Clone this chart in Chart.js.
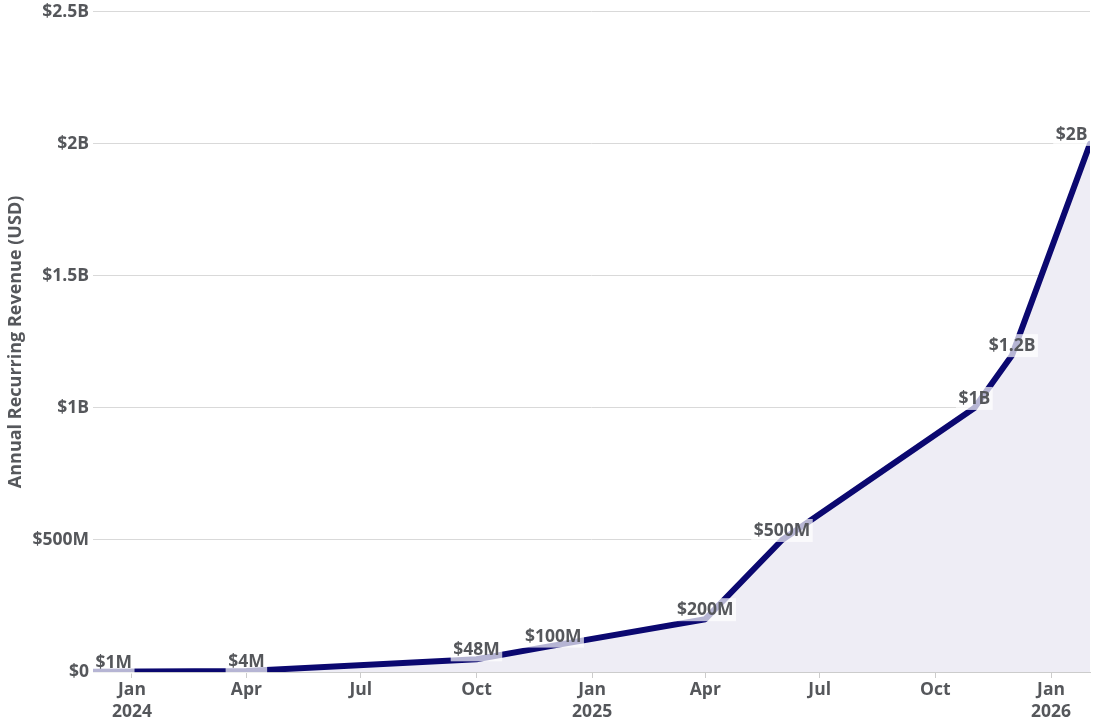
<!DOCTYPE html>
<html>
<head>
<meta charset="utf-8">
<script src="https://cdn.jsdelivr.net/npm/chart.js@4/dist/chart.umd.min.js"></script>
<style>
  html, body { margin: 0; padding: 0; background: #fff; }
  #wrap { width: 1111px; height: 721px; }
</style>
</head>
<body>
<div id="wrap"><canvas id="arr"></canvas></div>
<script>
"use strict";

// ARR milestones
const dates = ["2023-12-01", "2024-04-01", "2024-10-01", "2024-12-01", "2025-04-01",
               "2025-06-01", "2025-11-01", "2025-12-01", "2026-02-01"];
const arrValues = [1e6, 4e6, 48e6, 100e6, 200e6, 500e6, 1e9, 1.2e9, 2e9];
const pointLabels = ["$1M", "$4M", "$48M", "$100M", "$200M", "$500M", "$1B", "$1.2B", "$2B"];

const xTickDates = ["2024-01-01", "2024-04-01", "2024-07-01", "2024-10-01", "2025-01-01",
                    "2025-04-01", "2025-07-01", "2025-10-01", "2026-01-01"];
const xTickLabels = [["Jan", "2024"], "Apr", "Jul", "Oct", ["Jan", "2025"], "Apr", "Jul", "Oct", ["Jan", "2026"]];

const yTickValues = [0, 5e8, 1e9, 1.5e9, 2e9, 2.5e9];
const yTickLabels = ["$0", "$500M", "$1B", "$1.5B", "$2B", "$2.5B"];

const textColor = "#55575b";
const fontFamily = "'Open Sans', 'Noto Sans', sans-serif";
const fontSize = 17.5;

const toTime = (s) => Date.parse(s + "T00:00:00Z");

const labelPlugin = {
  id: "pointTags",
  afterDatasetsDraw(chart) {
    const ctx = chart.ctx;
    const area = chart.chartArea;
    const meta = chart.getDatasetMeta(0);
    ctx.save();
    ctx.font = "bold " + fontSize + "px " + fontFamily;
    ctx.textAlign = "center";
    ctx.textBaseline = "alphabetic";
    meta.data.forEach((pt, i) => {
      const txt = pointLabels[i];
      const w = ctx.measureText(txt).width + 5;
      const h = 23;
      let left = pt.x - w / 2;
      if (left < area.left) left = area.left;
      if (left + w > area.right) left = area.right - w;
      const bottom = pt.y + 2;
      ctx.fillStyle = "rgba(255,255,255,0.7)";
      ctx.fillRect(left, bottom - h, w, h);
      ctx.fillStyle = textColor;
      ctx.fillText(txt, left + w / 2, bottom - 6);
    });
    ctx.restore();
  }
};

const ctx = document.getElementById("arr").getContext("2d");

new Chart(ctx, {
  type: "line",
  data: {
    datasets: [{
      data: dates.map((d, i) => ({ x: toTime(d), y: arrValues[i] })),
      borderColor: "#0b0870",
      borderWidth: 6,
      borderCapStyle: "round",
      borderJoinStyle: "round",
      backgroundColor: "#eeedf5",
      fill: "origin",
      tension: 0,
      pointRadius: 0
    }]
  },
  plugins: [labelPlugin],
  options: {
    responsive: true,
    maintainAspectRatio: false,
    animation: false,
    layout: { padding: { left: 0, right: 21, top: 0, bottom: 0 } },
    plugins: {
      legend: { display: false },
      tooltip: { enabled: false }
    },
    scales: {
      x: {
        type: "linear",
        min: toTime(dates[0]),
        max: toTime(dates[dates.length - 1]),
        afterBuildTicks(scale) {
          scale.ticks = xTickDates.map((d) => ({ value: toTime(d) }));
        },
        afterFit(scale) { scale.height = 49; },
        grid: {
          drawOnChartArea: false,
          drawTicks: true,
          tickLength: 6,
          tickColor: "#cccccc"
        },
        border: { color: "#cccccc", width: 1 },
        ticks: {
          autoSkip: false,
          maxRotation: 0,
          padding: 1,
          color: textColor,
          font: { family: fontFamily, size: fontSize, weight: "bold", lineHeight: 1.25 },
          callback(value, index) { return xTickLabels[index]; }
        }
      },
      y: {
        min: 0,
        max: 2.5e9,
        afterBuildTicks(scale) {
          scale.ticks = yTickValues.map((v) => ({ value: v }));
        },
        afterFit(scale) { scale.width = 93; },
        grid: { color: "#d9d9d9", lineWidth: 1, drawTicks: false },
        border: { display: false },
        ticks: {
          padding: 4,
          color: textColor,
          font: { family: fontFamily, size: fontSize, weight: "bold", lineHeight: 0.9 },
          callback(value, index) { return yTickLabels[index]; }
        },
        title: {
          display: true,
          text: "Annual Recurring Revenue (USD)",
          color: textColor,
          padding: { top: 5, bottom: 0 },
          font: { family: fontFamily, size: 18, weight: "bold" }
        }
      }
    }
  }
});
</script>
</body>
</html>
